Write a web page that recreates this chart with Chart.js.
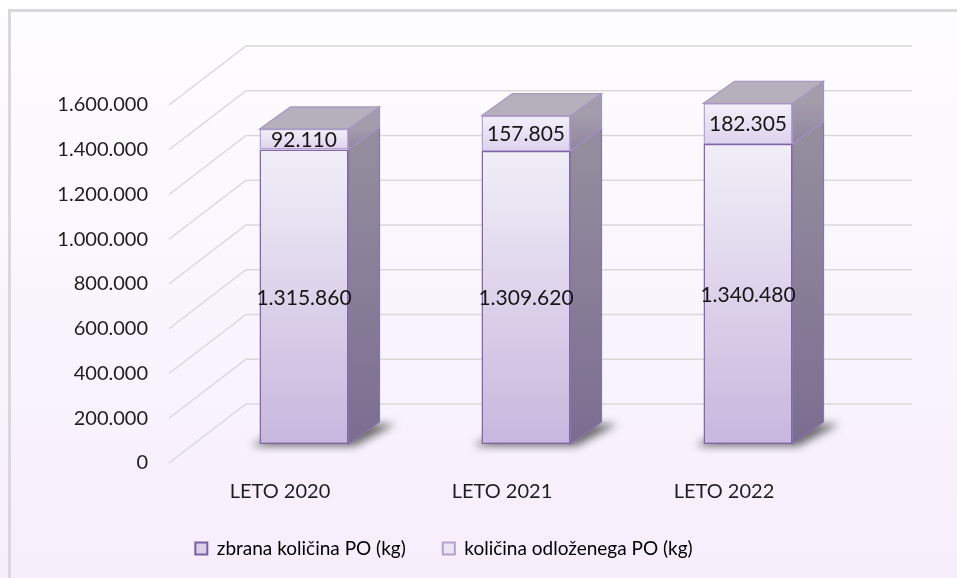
<!DOCTYPE html>
<html>
<head>
<meta charset="utf-8">
<script src="https://cdn.jsdelivr.net/npm/chart.js@4.4.0/dist/chart.umd.min.js"></script>
<style>
  html, body { margin: 0; padding: 0; background: #fbf8fd; }
  #wrap { width: 957px; height: 578px; }
</style>
</head>
<body>
<div id="wrap"><canvas id="myChart" width="957" height="578"></canvas></div>
<script>
// ====== data ======
const labels = ['LETO 2020', 'LETO 2021', 'LETO 2022'];
const zbrana = [1315860, 1309620, 1340480];
const odlozeno = [92110, 157805, 182305];
const yTicks = [0, 200000, 400000, 600000, 800000, 1000000, 1200000, 1400000, 1600000];
const seriesNames = ['zbrana količina PO (kg)', 'količina odloženega PO (kg)'];

// 3d look offsets
const WALL_X = 53, WALL_Y = 40;    // back wall
const FLOOR_X = 24, FLOOR_Y = 19;  // front edge of floor
const DEPTH_X = 31, DEPTH_Y = 22;  // bar depth

const FONT = 'Lato';

function fmt(n) {
  return String(n).replace(/\B(?=(\d{3})+(?!\d))/g, '.');
}

function vGrad(ctx, top, bottom, c1, c2) {
  const g = ctx.createLinearGradient(0, top, 0, bottom);
  g.addColorStop(0, c1);
  g.addColorStop(1, c2);
  return g;
}

function poly(ctx, pts) {
  ctx.beginPath();
  ctx.moveTo(pts[0][0], pts[0][1]);
  for (let i = 1; i < pts.length; i++) ctx.lineTo(pts[i][0], pts[i][1]);
  ctx.closePath();
}

//==================== background + walls ====================
const backdrop = {
  id: 'backdrop',
  beforeDraw(chart) {
    const ctx = chart.ctx;
    ctx.save();
    ctx.fillStyle = vGrad(ctx, 0, chart.height, '#fefdff', '#f6eefb');
    ctx.fillRect(0, 0, chart.width, chart.height);
    ctx.strokeStyle = '#d9d9d9';
    ctx.lineWidth = 3;
    ctx.beginPath();
    ctx.moveTo(9.5, chart.height);
    ctx.lineTo(9.5, 10.5);
    ctx.lineTo(chart.width, 10.5);
    ctx.stroke();
    ctx.restore();
  },
  beforeDatasetsDraw(chart) {
    const ctx = chart.ctx, a = chart.chartArea, y = chart.scales.y;
    ctx.save();
    ctx.strokeStyle = '#d9d9d9';
    ctx.lineWidth = 1.5;
    y.ticks.forEach(t => {
      const py = y.getPixelForValue(t.value);
      ctx.beginPath();
      ctx.moveTo(a.left - FLOOR_X, py + FLOOR_Y);
      ctx.lineTo(a.left + WALL_X, py - WALL_Y);
      ctx.lineTo(a.right + WALL_X, py - WALL_Y);
      ctx.stroke();
    });
    // soft shadows on the floor
    const meta = chart.getDatasetMeta(0);
    ctx.filter = 'blur(4px)';
    ctx.fillStyle = 'rgba(60,60,60,0.75)';
    meta.data.forEach(bar => {
      const l = bar.x - bar.width / 2, r = bar.x + bar.width / 2, b = bar.base;
      poly(ctx, [[l - 8, b + 2], [r + 6, b + 2], [r + DEPTH_X + 16, b - DEPTH_Y + 2], [l + DEPTH_X, b - DEPTH_Y + 2]]);
      ctx.fill();
    });
    ctx.filter = 'none';
    ctx.restore();
  },
  afterDatasetsDraw(chart) {
    const ctx = chart.ctx;
    const styles = [
      { side: ['#938d9d', '#7b6d91'], line: '#8a74ad' },
      { side: ['#a39cab', '#8f859f'], line: '#a392c4' }
    ];
    ctx.save();
    [0, 1].forEach(di => {
      const meta = chart.getDatasetMeta(di);
      meta.data.forEach(bar => {
        const r = bar.x + bar.width / 2, l = bar.x - bar.width / 2;
        const top = bar.y, base = bar.base;
        // side face
        poly(ctx, [[r, top], [r + DEPTH_X, top - DEPTH_Y], [r + DEPTH_X, base - DEPTH_Y], [r, base]]);
        ctx.fillStyle = vGrad(ctx, top, base, styles[di].side[0], styles[di].side[1]);
        ctx.fill();
        ctx.strokeStyle = styles[di].line;
        ctx.lineWidth = 1.2;
        ctx.stroke();
        if (di === 1) {
          poly(ctx, [[l, top], [l + DEPTH_X, top - DEPTH_Y], [r + DEPTH_X, top - DEPTH_Y], [r, top]]);
          ctx.fillStyle = '#b5b0bb';
          ctx.fill();
          ctx.strokeStyle = '#a898c2';
          ctx.stroke();
        }
      });
    });
    // value labels
    ctx.fillStyle = '#161616';
    ctx.font = '21px ' + FONT;
    ctx.textAlign = 'center';
    ctx.textBaseline = 'middle';
    [zbrana, odlozeno].forEach((vals, di) => {
      chart.getDatasetMeta(di).data.forEach((bar, i) => {
        ctx.fillText(fmt(vals[i]), bar.x, (bar.y + bar.base) / 2 + 1);
      });
    });
    ctx.restore();
  }
};

//==================== chart ====================
const ctx = document.getElementById('myChart').getContext('2d');
const chart = new Chart(ctx, {
  type: 'bar',
  data: {
    labels: labels,
    datasets: [{
      label: seriesNames[0],
      data: zbrana,
      backgroundColor: function(c) {
        if (c.dataIndex === undefined || !c.chart.chartArea) return '#ddd3ea';
        const y = c.chart.scales.y;
        return vGrad(c.chart.ctx, y.getPixelForValue(zbrana[c.dataIndex]), y.getPixelForValue(0), '#f1eef7', '#c8b7de');
      },
      borderColor: '#8066a8',
      borderWidth: 1.5,
      borderSkipped: false
    },
    {
      label: seriesNames[1],
      data: odlozeno,
      backgroundColor: function(c) {
        if (c.dataIndex === undefined || !c.chart.chartArea) return '#e8e1f2';
        const y = c.chart.scales.y;
        const i = c.dataIndex;
        return vGrad(c.chart.ctx, y.getPixelForValue(zbrana[i] + odlozeno[i]), y.getPixelForValue(zbrana[i]), '#f3f0f9', '#ddd2ee');
      },
      borderColor: '#b3a3d0',
      borderWidth: 1.5,
      borderSkipped: false
    }]
  },
  options: {
    responsive: false,
    devicePixelRatio: 1,
    animation: false,
    layout: { padding: { left: 29, right: 98, top: 86, bottom: 10 } },
    datasets: { bar: { categoryPercentage: 1, barPercentage: 0.401 } },
    scales: {
      x: {
        stacked: true,
        grid: { display: false, drawTicks: false },
        border: { display: false },
        ticks: { padding: 36, labelOffset: -24, color: '#1e1e1e', font: { family: FONT, size: 20 } },
        afterFit(s) { s.height = 58; }
      },
      y: {
        stacked: true,
        min: 0,
        max: 1600000,
        afterBuildTicks(s) { s.ticks = yTicks.map(v => ({ value: v })); },
        grid: { display: false, drawTicks: false },
        border: { display: false },
        ticks: {
          padding: 45,
          labelOffset: 19,
          color: '#1e1e1e',
          font: { family: FONT, size: 20 },
          callback: v => fmt(v)
        },
        afterFit(s) { s.width = 164; }
      }
    },
    plugins: {
      tooltip: { enabled: false },
      legend: {
        position: 'bottom',
        labels: {
          boxWidth: 12,
          boxHeight: 12,
          padding: 37,
          color: '#1e1e1e',
          font: { family: FONT, size: 19 },
          generateLabels: () => [
            { text: seriesNames[0], fillStyle: '#d9d0ea', strokeStyle: '#7a5fa3', lineWidth: 2, datasetIndex: 0 },
            { text: seriesNames[1], fillStyle: '#ebe5f4', strokeStyle: '#b1a2cf', lineWidth: 2, datasetIndex: 1 }
          ]
        }
      }
    }
  },
  plugins: [backdrop]
});
</script>
</body>
</html>
